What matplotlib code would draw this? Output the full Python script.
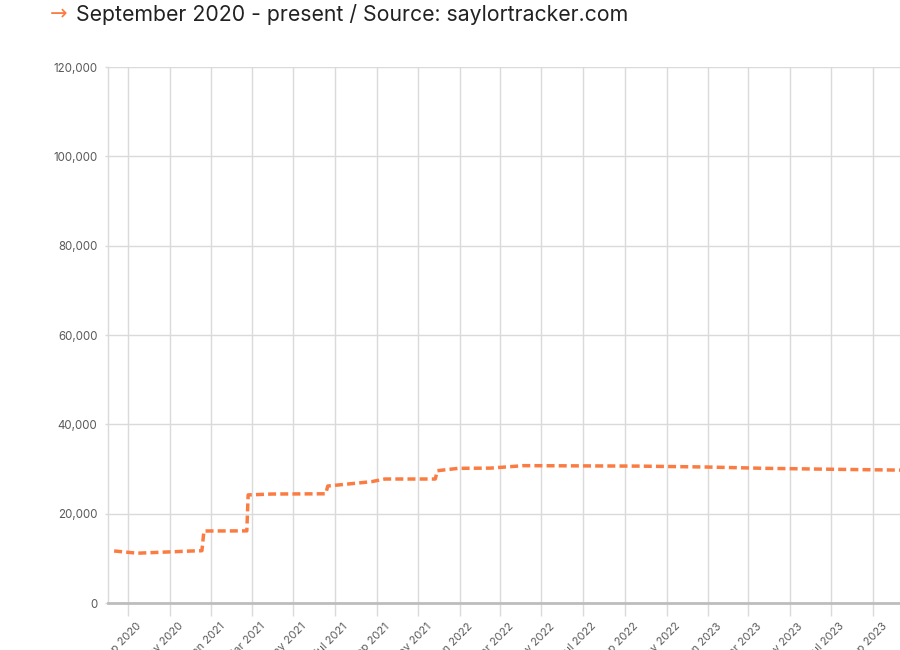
"""MicroStrategy average BTC cost basis, Sep 2020 - present."""
import matplotlib
matplotlib.use('Agg')
import matplotlib.pyplot as plt
import matplotlib.dates as mdates
import matplotlib.transforms as mtransforms
from matplotlib.ticker import FuncFormatter
import numpy as np
import pandas as pd

plt.rcParams['font.family'] = ['Inter', 'DejaVu Sans']

# average purchase price per BTC (USD)
dates = pd.to_datetime([
    '2020-08-11', '2020-09-14', '2020-12-04', '2020-12-18', '2020-12-21',
    '2021-02-22', '2021-02-24', '2021-03-31', '2021-06-18', '2021-06-21',
    '2021-08-24', '2021-09-13', '2021-11-26', '2021-11-29', '2021-12-30',
    '2022-02-15', '2022-04-05', '2022-09-20', '2022-12-28', '2023-03-27',
    '2023-06-28', '2023-10-12',
])
avg_cost = [
    11650, 11150, 11650, 11700, 16120,
    16150, 24200, 24400, 24450, 26190,
    27160, 27760, 27760, 29620, 30150,
    30200, 30750, 30650, 30450, 30150,
    29950, 29750,
]
y_ticks = [0, 20000, 40000, 60000, 80000, 100000, 120000]

ORANGE = '#fb7c42'
GRID = '#dadada'

fig = plt.figure(figsize=(9, 6.5), dpi=100)
ax = fig.add_axes([0.12, 0.0723, 0.88, 0.8246])

ax.plot(dates, avg_cost, color=ORANGE, linewidth=2.5, dashes=(2.3, 1.2),
        dash_capstyle='butt', zorder=3)

ax.set_ylim(0, 120000)
ax.set_yticks(y_ticks)
ax.yaxis.set_major_formatter(FuncFormatter(lambda v, _: f'{int(v):,}'))
ax.set_xlim(pd.Timestamp('2020-08-02'), pd.Timestamp('2023-10-10'))
ax.xaxis.set_major_locator(mdates.MonthLocator(bymonth=[1, 3, 5, 7, 9, 11]))
ax.xaxis.set_major_formatter(mdates.DateFormatter('%b %Y'))

ax.grid(True, color=GRID, linewidth=1.0, zorder=0)
for side in ['top', 'right']:
    ax.spines[side].set_visible(False)
ax.spines['left'].set_color(GRID)
ax.spines['left'].set_linewidth(1.0)
ax.spines['bottom'].set_color('#bdbdbd')
ax.spines['bottom'].set_linewidth(2.0)
ax.spines['bottom'].set_zorder(4)

ax.tick_params(axis='x', length=9, width=1.0, color=GRID, pad=4,
               labelsize=8, labelcolor='#5a5a5a')
ax.tick_params(axis='y', length=2.5, width=1.0, color=GRID, pad=5,
               labelsize=8.3, labelcolor='#5a5a5a')

offset = mtransforms.ScaledTranslation(0.08, 0, fig.dpi_scale_trans)
for lbl in ax.get_xticklabels():
    lbl.set_rotation(45)
    lbl.set_ha('right')
    lbl.set_va('top')
    lbl.set_rotation_mode('anchor')
    lbl.set_transform(lbl.get_transform() + offset)

# header line
fig.text(0.055, 0.978, '\u2192', color=ORANGE, fontsize=15, va='center', ha='left',
         family=['DejaVu Sans'])
fig.text(0.084, 0.978, 'September 2020 - present / Source: saylortracker.com',
         color='#222222', fontsize=15.3, va='center', ha='left')

fig.savefig('out.png', dpi=100)
